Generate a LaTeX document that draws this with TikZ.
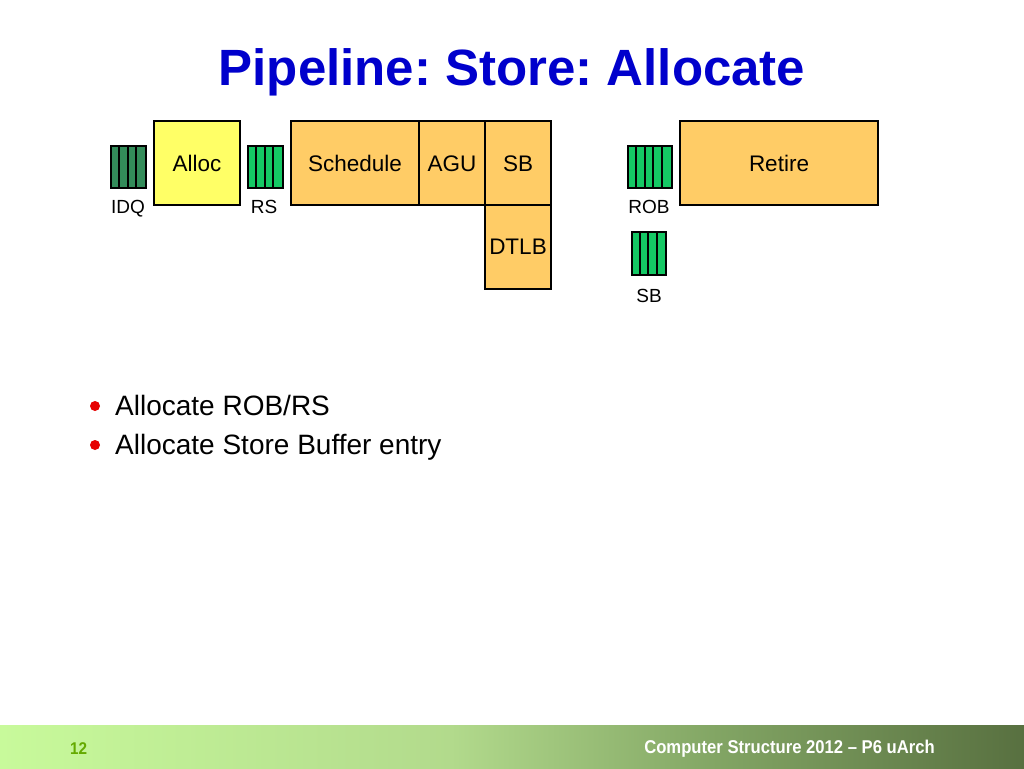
\documentclass[tikz,border=0pt]{standalone}
\usepackage{fontspec}
\setmainfont{Liberation Sans}
\newfontfamily\footfont[FakeStretch=0.9]{Liberation Sans}
\usetikzlibrary{positioning,calc}
\definecolor{titleblue}{RGB}{0,0,204}
\definecolor{allocyel}{RGB}{255,255,102}
\definecolor{stageor}{RGB}{255,204,102}
\definecolor{qdark}{RGB}{51,140,90}
\definecolor{qbright}{RGB}{20,200,100}
\definecolor{bulred}{RGB}{230,0,0}
\definecolor{numgreen}{RGB}{100,170,0}
\definecolor{footA}{RGB}{200,250,155}
\definecolor{footB}{RGB}{178,218,140}
\definecolor{footM}{RGB}{130,165,100}
\definecolor{footC}{RGB}{88,112,64}
\pgfdeclarehorizontalshading{footshade}{100bp}{color(0bp)=(footA); color(25bp)=(footA); color(47bp)=(footB); color(60bp)=(footM); color(75bp)=(footC); color(100bp)=(footC)}
\tikzset{
  stage/.style={draw=black, line width=2pt, fill=stageor, inner sep=0pt, anchor=north west},
  stagelabel/.style={font=\fontsize{22.5}{27}\selectfont, anchor=base, inner sep=0pt},
  qlabel/.style={font=\fontsize{19}{23}\selectfont, inner sep=0pt, anchor=base},
  bullettext/.style={font=\fontsize{28}{34}\selectfont, anchor=base west, inner sep=0pt},
  bulletdot/.style={circle, fill=bulred, inner sep=0pt, minimum size=10pt},
}
% queue: #1 name, #2 x, #3 y (top), #4 width, #5 height, #6 bars, #7 color
\newcommand{\myqueue}[7]{%
  \node[draw=black, line width=2pt, fill=#7, minimum width=#4pt, minimum height=#5pt, inner sep=0pt, anchor=north west] (#1) at (#2,#3) {};
  \pgfmathsetmacro{\qw}{#4/#6}
  \foreach \i in {1,...,\numexpr#6-1\relax}{
    \draw[line width=2pt] ($(#1.north west)+(\i*\qw pt,0)$) -- ($(#1.south west)+(\i*\qw pt,0)$);
  }%
}
\frenchspacing
\begin{document}
\begin{tikzpicture}[x=1pt,y=-1pt]
\useasboundingbox (0,0) rectangle (1024,768);
\fill[white] (0,0) rectangle (1024,768);
% footer
\shade[shading=footshade] (0,725) rectangle (1024,768);
\node[font=\footfont\bfseries\fontsize{17}{20}\selectfont, text=numgreen, anchor=base west, inner sep=0pt] (pnum) at (70,754) {12};
\node[font=\footfont\bfseries\fontsize{18.5}{22}\selectfont, text=white, anchor=base east, inner sep=0pt] (foot) at (935,753) {Computer Structure 2012 – P6 uArch};
% title
\node[font=\bfseries\fontsize{51}{60}\selectfont, text=titleblue, anchor=base, inner sep=0pt] (title) at (512,85) {Pipeline: Store: Allocate};
% queues
\myqueue{idq}{110}{145}{35}{42}{4}{qdark}
\myqueue{rs}{247}{145}{35}{42}{4}{qbright}
\myqueue{rob}{627}{145}{44}{42}{5}{qbright}
\myqueue{sbq}{631}{231}{34}{43}{4}{qbright}
\node[qlabel] (idql) at (128,213) {IDQ};
\node[qlabel] (rsl) at (264,213) {RS};
\node[qlabel] (robl) at (649,213) {ROB};
\node[qlabel] (sbql) at (649,302) {SB};
% stages
\node[stage, fill=allocyel, minimum width=86pt, minimum height=84pt] (alloc) at (153,120) {};
\node[stage, minimum width=128pt, minimum height=84pt] (sched) at (290,120) {};
\node[stage, minimum width=66pt, minimum height=84pt] (agu) at (418,120) {};
\node[stage, minimum width=66pt, minimum height=84pt] (sb) at (484,120) {};
\node[stage, minimum width=66pt, minimum height=84pt] (dtlb) at (484,204) {};
\node[stage, minimum width=198pt, minimum height=84pt] (retire) at (679,120) {};
\node[stagelabel] (allocl) at (alloc.center |- 0,171) {Alloc};
\node[stagelabel] (schedl) at (sched.center |- 0,171) {Schedule};
\node[stagelabel] (agul) at (agu.center |- 0,171) {AGU};
\node[stagelabel] (sbl) at (sb.center |- 0,171) {SB};
\node[stagelabel] (dtlbl) at (dtlb.center |- 0,254) {DTLB};
\node[stagelabel] (retirel) at (retire.center |- 0,171) {Retire};
% bullets
\node[bulletdot] (b1) at (95,406) {};
\node[bullettext] (t1) at (115,415) {Allocate ROB/RS};
\node[bulletdot] (b2) at (95,445) {};
\node[bullettext] (t2) at (115,454) {Allocate Store Buffer entry};
\end{tikzpicture}
\end{document}
